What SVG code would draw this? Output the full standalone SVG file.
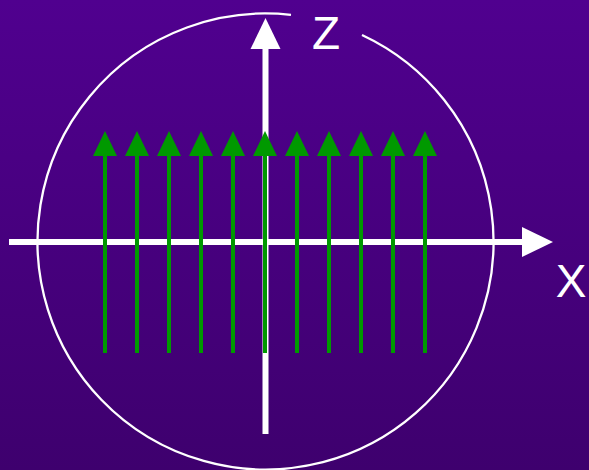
<svg xmlns="http://www.w3.org/2000/svg" width="589" height="470" viewBox="0 0 589 470">
  <defs>
    <linearGradient id="bg" x1="0" y1="0" x2="0" y2="1">
      <stop offset="0" stop-color="#50008f"/>
      <stop offset="1" stop-color="#3e006e"/>
    </linearGradient>
  </defs>
  <style>
    .axis { stroke: #ffffff; stroke-width: 6; fill: none; }
    .head { fill: #ffffff; }
    .field { stroke: #009900; stroke-width: 4; fill: none; }
    .fhead { fill: #009900; }
    .lbl { font-family: "Liberation Sans", Arial, sans-serif; font-size: 46px; fill: #ffffff; }
  </style>
  <rect x="0" y="0" width="589" height="470" fill="url(#bg)"/>
  <g id="sphere">
    <path d="M291 14.93 A228 228 0 1 0 362 34.93" fill="none" stroke="#ffffff" stroke-width="2.3"/>
  </g>
  <g id="connectors">
    <g id="x-axis">
      <line class="axis" x1="9" y1="242" x2="524" y2="242"/>
      <path class="head" d="M522 227 L553 242 L522 257 Z"/>
    </g>
    <g id="z-axis">
      <line class="axis" x1="265.5" y1="434" x2="265.5" y2="46"/>
      <path class="head" d="M250.5 49 L265.5 18 L280.5 49 Z"/>
    </g>
    <g id="field-lines">
      <path class="field" d="M105 353 V156"/>
      <path class="field" d="M137 353 V156"/>
      <path class="field" d="M169 353 V156"/>
      <path class="field" d="M201 353 V156"/>
      <path class="field" d="M233 353 V156"/>
      <path class="field" d="M265 353 V156"/>
      <path class="field" d="M297 353 V156"/>
      <path class="field" d="M329 353 V156"/>
      <path class="field" d="M361 353 V156"/>
      <path class="field" d="M393 353 V156"/>
      <path class="field" d="M425 353 V156"/>
      <path class="fhead" d="M93 156 L105 131 L117 156 Z"/>
      <path class="fhead" d="M125 156 L137 131 L149 156 Z"/>
      <path class="fhead" d="M157 156 L169 131 L181 156 Z"/>
      <path class="fhead" d="M189 156 L201 131 L213 156 Z"/>
      <path class="fhead" d="M221 156 L233 131 L245 156 Z"/>
      <path class="fhead" d="M253 156 L265 131 L277 156 Z"/>
      <path class="fhead" d="M285 156 L297 131 L309 156 Z"/>
      <path class="fhead" d="M317 156 L329 131 L341 156 Z"/>
      <path class="fhead" d="M349 156 L361 131 L373 156 Z"/>
      <path class="fhead" d="M381 156 L393 131 L405 156 Z"/>
      <path class="fhead" d="M413 156 L425 131 L437 156 Z"/>
    </g>
  </g>
  <g id="label-z">
    <text class="lbl" x="326" y="49" text-anchor="middle">Z</text>
  </g>
  <g id="label-x">
    <text class="lbl" x="571" y="297" text-anchor="middle">X</text>
  </g>
</svg>
